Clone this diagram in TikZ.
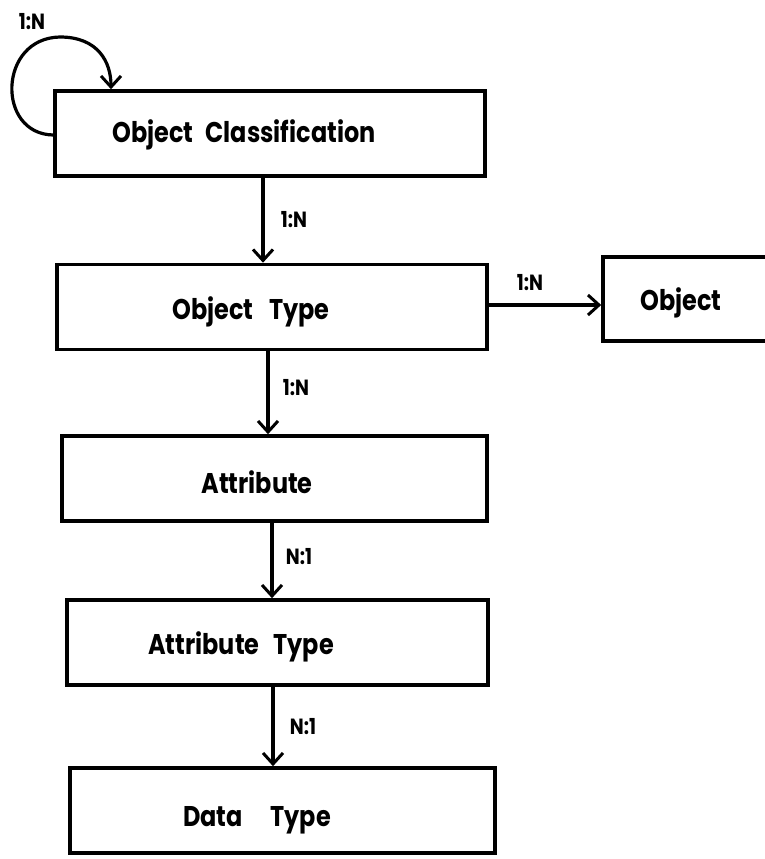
\documentclass[tikz,border=0pt]{standalone}
\usepackage{fontspec}
\setmainfont{Poppins}[FakeStretch=0.84]
\usetikzlibrary{arrows.meta}
\begin{document}
\begin{tikzpicture}[x=1pt,y=-1pt,
  box/.style={draw, line width=3.6pt, minimum width=#1, minimum height=85pt,
    inner sep=0pt},
  box/.default=428pt,
  boxtitle/.style={font=\fontsize{28.5}{31}\selectfont\bfseries, inner sep=0pt},
  card/.style={font=\fontsize{22}{25}\selectfont\bfseries, inner sep=0pt},
  link/.style={line width=3.2pt, -{Straight Barb[length=11pt,width=20pt,line width=3pt]}},
]
\useasboundingbox (0,0) rectangle (764,859);

% entity boxes with their titles
\node[box=430pt] (oc) at (270,133.5) {};
\node[boxtitle] (toc) at (244,135) {Object\hspace{12pt}Classification};
\node[box=430pt] (ot) at (272,307) {};
\node[boxtitle] (tot) at (251,312) {Object\hspace{16pt}Type};
\node[box=200pt, minimum height=84pt] (obj) at (703,299) {};
\node[boxtitle] (tobj) at (681,303) {Object};
\node[box=425pt] (attr) at (274.5,478.5) {};
\node[boxtitle] (tattr) at (257,482) {Attribute};
\node[box=421pt] (atype) at (277.5,642.5) {};
\node[boxtitle] (tatype) at (241,647) {Attribute\hspace{14pt}Type};
\node[box=425pt] (dtype) at (282.5,810.5) {};
\node[boxtitle] (tdtype) at (257,820) {Data\hspace{28pt}Type};

% connector columns
\coordinate (c1) at (263,0);
\coordinate (c2) at (268,0);
\coordinate (c3) at (272,0);
\coordinate (c4) at (273,0);
\coordinate (r1) at (0,305);

% recursive classification loop
\coordinate (loopstart) at (oc.west |- 0,135);
\coordinate (loopend) at (111,0);
\draw[link] (loopstart) .. controls (-4,134) and (-2,38) .. (60,37)
  .. controls (98,37) and (111,62) .. (loopend |- oc.north);
\node[card] (l0) at (32,22) {1:N};

% hierarchy links
\draw[link] (oc.south -| c1) -- (ot.north -| c1);
\node[card] (l1) at (294,220) {1:N};
\draw[link] (ot.east |- r1) -- (obj.west |- r1);
\node[card] (l2) at (530,283) {1:N};
\draw[link] (ot.south -| c2) -- (attr.north -| c2);
\node[card] (l3) at (296,388) {1:N};
\draw[link] (attr.south -| c3) -- (atype.north -| c3);
\node[card] (l4) at (299,557) {N:1};
\draw[link] (atype.south -| c4) -- (dtype.north -| c4);
\node[card] (l5) at (303,727) {N:1};
\end{tikzpicture}
\end{document}
